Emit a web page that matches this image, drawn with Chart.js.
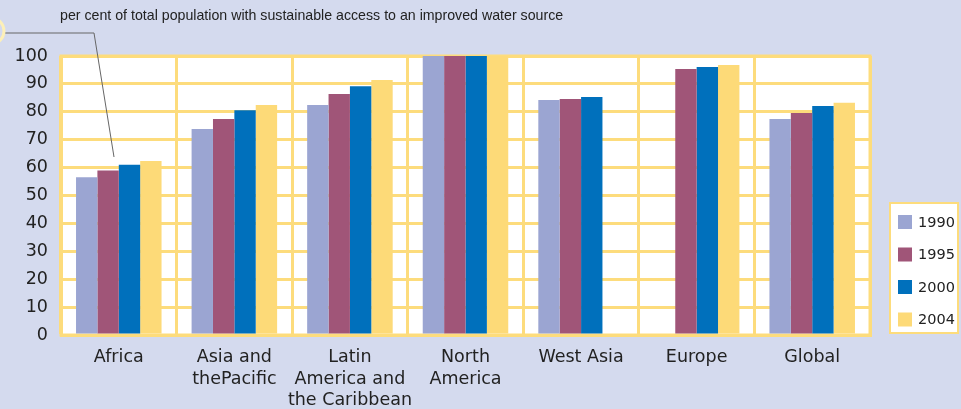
<!DOCTYPE html>
<html>
<head>
<meta charset="utf-8">
<script src="https://cdn.jsdelivr.net/npm/chart.js@4.4.1/dist/chart.umd.min.js"></script>
<style>
  html, body { margin: 0; padding: 0; background: #d4daee; }
  #wrap { width: 961px; height: 409px; }
</style>
</head>
<body>
<div id="wrap"><canvas id="chart" width="961" height="409"></canvas></div>
<script>
const regions = ['Africa', ['Asia and', 'thePacific'], ['Latin', 'America and', 'the Caribbean'], ['North', 'America'], 'West Asia', 'Europe', 'Global'];
const years = ['1990', '1995', '2000', '2004'];
const values1990 = [56.5, 73.8, 82.4, 100, 84.2, null, 77.4];
const values1995 = [59, 77.4, 86.4, 100, 84.6, 95.3, 79.6];
const values2000 = [61, 80.6, 89.2, 100, 85.3, 96.1, 82.1];
const values2004 = [62.4, 82.4, 91.4, 100, null, 96.8, 83.2];
const yearColors = ['#9ba5d2', '#a05578', '#0070bc', '#fdda78'];
const unitNote = 'per cent of total population with sustainable access to an improved water source';

const gridYellow = '#fddc7c';
const font = 'Liberation Sans, Arial, sans-serif';
const wideFont = 'DejaVu Sans, Verdana, sans-serif';

const backdrop = {
    id: 'backdrop',
    beforeDraw(chart) {
        const ctx = chart.ctx;
        const a = chart.chartArea;
        ctx.save();
        ctx.fillStyle = '#d4daee';
        ctx.fillRect(0, 0, chart.width, chart.height);
        ctx.fillStyle = '#ffffff';
        ctx.fillRect(a.left, a.top, a.right - a.left, a.bottom - a.top);
        ctx.restore();
    },
    beforeDatasetsDraw(chart) {
        // plot frame, under the bars
        const ctx = chart.ctx;
        const a = chart.chartArea;
        ctx.save();
        ctx.strokeStyle = gridYellow;
        ctx.lineWidth = 3;
        ctx.strokeRect(a.left, a.top, a.right - a.left, a.bottom - a.top);
        ctx.restore();
    },
    afterDraw(chart) {
        const ctx = chart.ctx;
        ctx.save();
        // unit note and leader line
        ctx.fillStyle = '#222';
        ctx.font = '14.2px ' + font;
        ctx.textBaseline = 'middle';
        ctx.fillText(unitNote, 60, 16);
        ctx.strokeStyle = '#666';
        ctx.lineWidth = 1;
        ctx.beginPath();
        ctx.moveTo(4, 33);
        ctx.lineTo(94, 33);
        ctx.lineTo(114, 157);
        ctx.stroke();
        ctx.strokeStyle = '#fdf0b8';
        ctx.lineWidth = 3;
        ctx.beginPath();
        ctx.arc(-9, 31, 13, -Math.PI / 2, Math.PI / 2);
        ctx.stroke();

        // legend box
        const lx = 890, ly = 203, lw = 68, lh = 130;
        ctx.fillStyle = '#ffffff';
        ctx.fillRect(lx, ly, lw, lh);
        ctx.strokeStyle = gridYellow;
        ctx.lineWidth = 2;
        ctx.strokeRect(lx, ly, lw, lh);
        ctx.font = '14.5px ' + wideFont;
        chart.data.datasets.forEach((ds, i) => {
            const cy = 222 + i * 32.5;
            ctx.fillStyle = ds.backgroundColor;
            ctx.fillRect(898, cy - 7, 14, 14);
            ctx.fillStyle = '#222';
            ctx.fillText(ds.label, 918, cy + 1);
        });
        ctx.restore();
    }
};

new Chart(document.getElementById('chart'), {
    type: 'bar',
    data: {
        labels: regions,
        datasets: [
            { label: years[0], data: values1990, backgroundColor: yearColors[0] },
            { label: years[1], data: values1995, backgroundColor: yearColors[1] },
            { label: years[2], data: values2000, backgroundColor: yearColors[2] },
            { label: years[3], data: values2004, backgroundColor: yearColors[3] }
        ]
    },
    options: {
        responsive: false,
        animation: false,
        layout: { padding: { top: 56, right: 91, left: 0, bottom: 0 } },
        datasets: { bar: { categoryPercentage: 0.74, barPercentage: 1 } },
        plugins: {
            legend: { display: false },
            tooltip: { enabled: false }
        },
        scales: {
            x: {
                grid: { color: gridYellow, lineWidth: 3, offset: true, drawTicks: false },
                border: { color: gridYellow, width: 3 },
                ticks: { color: '#222', font: { family: wideFont, size: 17.5, lineHeight: 1.22 }, padding: 12, maxRotation: 0, autoSkip: false },
                afterFit(scale) { scale.height = 74; }
            },
            y: {
                min: 0,
                max: 100,
                grid: { color: gridYellow, lineWidth: 3, drawTicks: false },
                border: { color: gridYellow, width: 3 },
                ticks: { stepSize: 10, color: '#222', font: { family: wideFont, size: 17.5 }, padding: 13 },
                afterFit(scale) { scale.width = 61; }
            }
        }
    },
    plugins: [backdrop]
});
</script>
</body>
</html>
